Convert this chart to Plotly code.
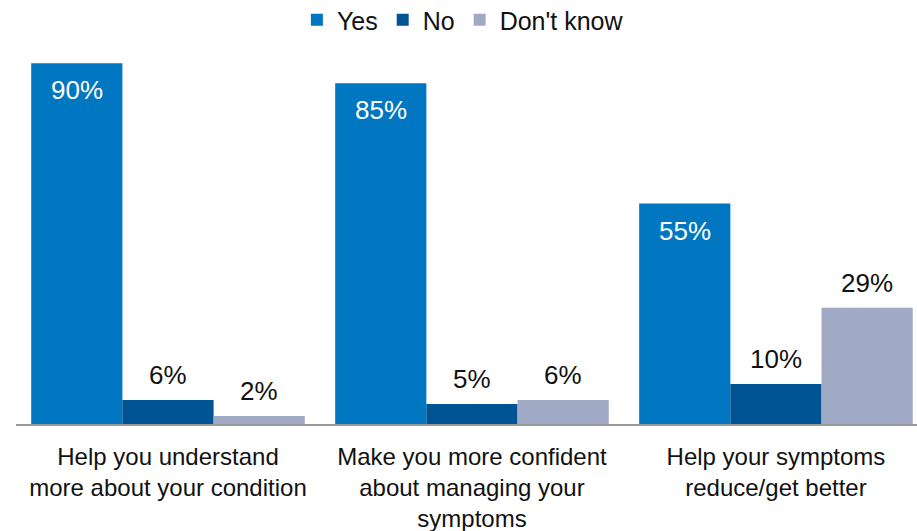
import plotly.graph_objects as go

categories = [
    "Help you understand<br>more about your condition",
    "Make you more confident<br>about managing your<br>symptoms",
    "Help your symptoms<br>reduce/get better",
]
series_names = ["Yes", "No", "Don't know"]
yes_vals = [90, 85, 55]
no_vals = [6, 5, 10]
dont_know_vals = [2, 6, 29]

FONT = "Liberation Sans, Arial, sans-serif"
COLORS = ["#0077C0", "#005493", "#A1AAC4"]

X_RANGE = [-0.5, 2.464]
MARGIN_L, MARGIN_R = 16, 0
WIDTH, HEIGHT = 917, 531
BARGAP = 0.1

fig = go.Figure()
for name, vals, color in zip(series_names, [yes_vals, no_vals, dont_know_vals], COLORS):
    fig.add_trace(go.Bar(
        name=name, x=categories, y=vals,
        marker=dict(color=color, line=dict(width=0)),
        hoverinfo="x+y+name",
    ))

# value labels: white inside the top of the "Yes" bars, dark above the others
px_per_cat = (WIDTH - MARGIN_L - MARGIN_R) / (X_RANGE[1] - X_RANGE[0])
bar_w = px_per_cat * (1 - BARGAP) / 3
for i, vals in enumerate([yes_vals, no_vals, dont_know_vals]):
    for cat, v in zip(categories, vals):
        inside = i == 0
        fig.add_annotation(
            x=cat, y=v, xref="x", yref="y",
            text=f"{v}%", showarrow=False,
            xshift=(i - 1) * bar_w,
            yanchor="middle",
            yshift=-27 if inside else 25,
            font=dict(family=FONT, size=26, color="white" if inside else "#111111"),
        )

fig.update_layout(
    width=WIDTH, height=HEIGHT,
    margin=dict(l=MARGIN_L, r=MARGIN_R, t=40, b=107, autoexpand=False),
    paper_bgcolor="white", plot_bgcolor="white",
    barmode="group", bargap=BARGAP, bargroupgap=0,
    font=dict(family=FONT, color="#111111"),
    legend=dict(
        orientation="h", x=0.496, xanchor="center",
        yref="container", y=1 - 20 / HEIGHT, yanchor="middle",
        font=dict(family=FONT, size=25, color="#111111"),
        itemwidth=30, traceorder="normal",
    ),
    xaxis=dict(
        type="category", range=X_RANGE, automargin=False,
        showline=True, linecolor="#999999", linewidth=2,
        ticks="", showgrid=False, ticklabelstandoff=10,
        tickfont=dict(family=FONT, size=24, color="#111111"),
    ),
    yaxis=dict(
        range=[0, 95.8], visible=False, showgrid=False, zeroline=False,
        automargin=False,
    ),
)

fig.write_html("out.html")
